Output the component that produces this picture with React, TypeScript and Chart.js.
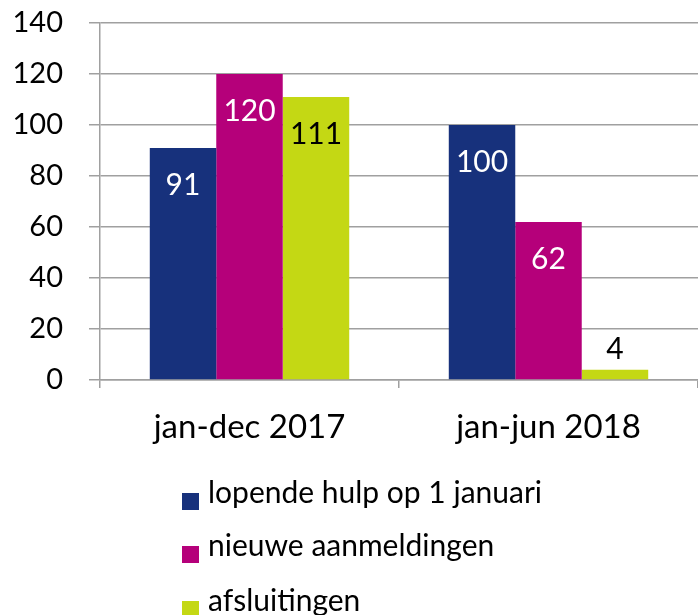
import React, { useEffect, useRef } from "react";
import { Chart, registerables } from "chart.js";

Chart.register(...registerables);

const categories = ["jan-dec 2017", "jan-jun 2018"];
const seriesNames = ["lopende hulp op 1 januari", "nieuwe aanmeldingen", "afsluitingen"];
const lopendeHulp = [91, 100];
const nieuweAanmeldingen = [120, 62];
const afsluitingen = [111, 4];
const yTicks = [0, 20, 40, 60, 80, 100, 120, 140];

const colors = ["#17317C", "#B5007A", "#C4D814"];
const labelColors = ["#FFFFFF", "#FFFFFF", "#000000"];
const FONT = "Lato, 'Open Sans', sans-serif";

const dataLabelPlugin = {
  id: "dataLabels",
  afterDatasetsDraw(chart: any) {
    const ctx = chart.ctx;
    ctx.save();
    ctx.font = `30px ${FONT}`;
    ctx.textAlign = "center";
    ctx.textBaseline = "middle";
    chart.data.datasets.forEach((ds: any, di: number) => {
      const meta = chart.getDatasetMeta(di);
      meta.data.forEach((bar: any, i: number) => {
        const v = ds.data[i];
        const h = bar.base - bar.y;
        if (h > 50) {
          ctx.fillStyle = labelColors[di];
          ctx.fillText(String(v), bar.x, bar.y + 37);
        } else {
          ctx.fillStyle = "#000000";
          ctx.fillText(String(v), bar.x, bar.y - 20);
        }
      });
    });
    ctx.restore();
  },
};

export default function App() {
  const canvasRef = useRef<HTMLCanvasElement | null>(null);

  useEffect(() => {
    document.body.style.margin = "0";
    const canvas = canvasRef.current;
    if (!canvas) return;
    const chart = new Chart(canvas, {
      type: "bar",
      data: {
        labels: categories,
        datasets: [lopendeHulp, nieuweAanmeldingen, afsluitingen].map((d, i) => ({
          label: seriesNames[i],
          data: d,
          backgroundColor: colors[i],
          borderWidth: 0,
          categoryPercentage: 0.667,
          barPercentage: 1,
        })),
      },
      options: {
        responsive: false,
        animation: false,
        events: [],
        layout: { padding: { top: 23, right: 0, bottom: 165, left: 0 } },
        plugins: {
          legend: { display: false },
          tooltip: { enabled: false },
        },
        scales: {
          x: {
            grid: {
              offset: true,
              drawOnChartArea: false,
              drawTicks: true,
              tickLength: 8,
              color: "#A0A0A0",
              lineWidth: 1.5,
            },
            border: { display: true, color: "#A0A0A0", width: 1.5 },
            ticks: {
              color: "#000000",
              font: { family: FONT, size: 33 },
              padding: 20,
            },
            afterFit: (scale: any) => {
              scale.height = 70;
              scale.paddingLeft = 0;
              scale.paddingRight = 0;
            },
          },
          y: {
            min: 0,
            max: 140,
            afterBuildTicks: (scale: any) => {
              scale.ticks = yTicks.map((v) => ({ value: v }));
            },
            grid: {
              color: "#A0A0A0",
              lineWidth: 1.5,
              drawTicks: true,
              tickLength: 11,
            },
            border: { display: true, color: "#A0A0A0", width: 1.5 },
            ticks: {
              color: "#000000",
              font: { family: FONT, size: 29 },
              padding: 26,
            },
            afterFit: (scale: any) => {
              scale.width = 100;
              scale.paddingTop = 0;
              scale.paddingBottom = 0;
            },
          },
        },
      },
      plugins: [dataLabelPlugin],
    });
    return () => chart.destroy();
  }, []);

  return (
    <div style={{ position: "absolute", left: 0, top: 0, width: 698, height: 615, overflow: "hidden" }}>
      <canvas ref={canvasRef} width={698} height={615} style={{ display: "block" }} />
      {seriesNames.map((name, i) => (
        <div
          key={name}
          style={{
            position: "absolute",
            left: 182,
            top: [476, 529, 584][i],
            height: 36,
            lineHeight: "36px",
            fontFamily: FONT,
            fontSize: 30,
            color: "#000",
            whiteSpace: "nowrap",
          }}
        >
          <span
            style={{
              position: "absolute",
              left: 0,
              top: 17,
              width: 17,
              height: 17,
              background: colors[i],
            }}
          />
          <span style={{ position: "absolute", left: 26, top: -3 }}>{name}</span>
        </div>
      ))}
    </div>
  );
}
